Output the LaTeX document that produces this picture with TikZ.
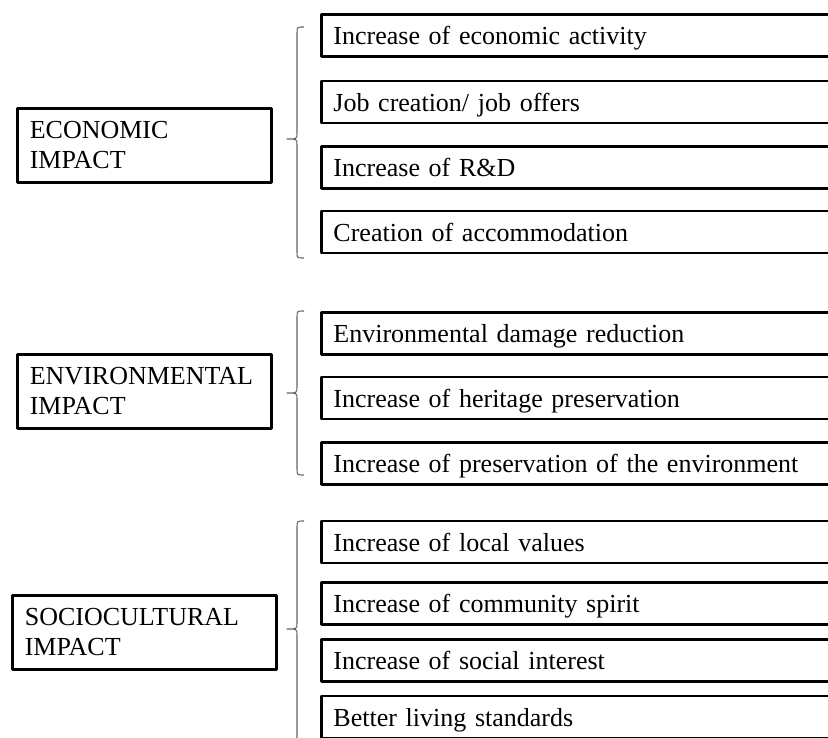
\documentclass[tikz,border=0pt]{standalone}
\usepackage{fontspec}
\setmainfont{Liberation Serif}
\usetikzlibrary{positioning}
\newcommand\boxfont{\fontsize{19.5}{22.5}\selectfont\spaceskip=0.3em\relax}

\begin{document}
\begin{tikzpicture}[x=0.75pt,y=-0.75pt,line join=round,
  topic/.style={draw,line width=2.2pt,text width=172pt,inner xsep=9pt,minimum height=56pt,align=left,font=\boxfont},
  item/.style={draw,line width=2.2pt,anchor=west,text width=390pt,inner xsep=9pt,minimum height=31.5pt,text height=16pt,text depth=2pt,align=left,font=\boxfont},
  brace/.style={draw=black!60,line width=0.8pt}]
\useasboundingbox (0,0) rectangle (828,738);
\clip (0,0) rectangle (828,738);
% impact boxes
\node[topic] (eco) at (144.5,145.5) {ECONOMIC\\IMPACT};
\node[topic] (env) at (144.5,391.5) {ENVIRONMENTAL\\IMPACT};
\node[topic,text width=179.5pt] (soc) at (144.5,632.5) {SOCIOCULTURAL\\IMPACT};
% effect boxes
\foreach \n/\y/\t in {e1/35.5/{Increase of economic activity},e2/102/{Job creation/ job offers},e3/167.5/{Increase of R\&D},e4/232/{Creation of accommodation},
  v1/333.5/{Environmental damage reduction},v2/398/{Increase of heritage preservation},v3/463.5/{Increase of preservation of the environment},
  s1/542/{Increase of local values},s2/603.5/{Increase of community spirit},s3/660.5/{Increase of social interest},s4/717/{Better living standards}}{
  \node[item] (\n) at (320,\y) {\t};}
% braces
\foreach \a/\m/\b in {27/139/258,311/393/475,521/629/770}{
  \draw[brace] (304,\a) .. controls (297,\a) .. (297,\a+6) -- (297,\m-6) .. controls (297,\m) .. (287,\m)
    .. controls (297,\m) .. (297,\m+6) -- (297,\b-6) .. controls (297,\b) .. (304,\b);}
\end{tikzpicture}
\end{document}
